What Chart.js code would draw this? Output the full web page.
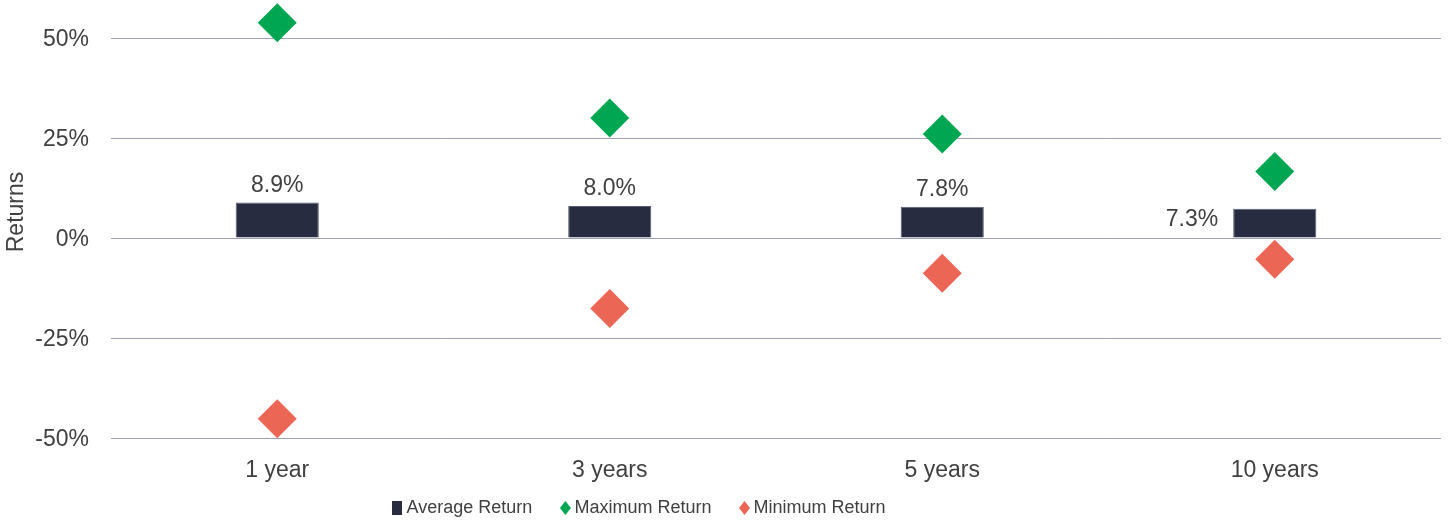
<!DOCTYPE html>
<html>
<head>
<meta charset="utf-8">
<script src="https://cdn.jsdelivr.net/npm/chart.js@4"></script>
<style>
  html, body { margin: 0; padding: 0; background: #ffffff; }
  #wrap { width: 1450px; height: 527px; position: relative; }
</style>
</head>
<body>
<div id="wrap"><canvas id="c" width="1450" height="527"></canvas></div>
<script>
const categories = ['1 year', '3 years', '5 years', '10 years'];
const averageReturn = [8.9, 8.0, 7.8, 7.3];
const maximumReturn = [53.8, 30.0, 26.0, 16.6];
const minimumReturn = [-45.2, -17.6, -8.8, -5.3];
const yTicks = [-50, -25, 0, 25, 50];
const seriesNames = ['Average Return', 'Maximum Return', 'Minimum Return'];
const yTitle = 'Returns';

const COL_AVG = '#282c40';
const COL_MAX = '#00a651';
const COL_MIN = '#ec6656';
const TXT = '#404040';
const FONT = '"Liberation Sans", Arial, sans-serif';

function marker(w, h, color, diamond) {
  const c = document.createElement('canvas');
  c.width = w; c.height = h;
  const x = c.getContext('2d');
  x.fillStyle = color;
  if (diamond) {
    x.beginPath();
    x.moveTo(w / 2, 0); x.lineTo(w, h / 2); x.lineTo(w / 2, h); x.lineTo(0, h / 2);
    x.closePath(); x.fill();
  } else {
    x.fillRect(0, 0, w, h);
  }
  return c;
}
const legendMarkers = [
  marker(10, 14, COL_AVG, false),
  marker(11, 14, COL_MAX, true),
  marker(11, 14, COL_MIN, true)
];

const barLabels = {
  id: 'barLabels',
  afterDatasetsDraw(chart) {
    const meta = chart.getDatasetMeta(0);
    const ctx = chart.ctx;
    ctx.save();
    ctx.font = '23px ' + FONT;
    ctx.fillStyle = TXT;
    ctx.textBaseline = 'middle';
    meta.data.forEach((bar, i) => {
      const txt = averageReturn[i].toFixed(1) + '%';
      if (i === meta.data.length - 1) {
        ctx.textAlign = 'right';
        ctx.fillText(txt, bar.x - bar.width / 2 - 15, (bar.y + bar.base) / 2 - 3);
      } else {
        ctx.textAlign = 'center';
        ctx.fillText(txt, bar.x, bar.y - 17);
      }
    });
    ctx.restore();
  }
};

const axisTitle = {
  id: 'axisTitle',
  afterDraw(chart) {
    const ctx = chart.ctx;
    ctx.save();
    ctx.font = '23px ' + FONT;
    ctx.fillStyle = TXT;
    ctx.textAlign = 'center';
    ctx.textBaseline = 'middle';
    ctx.translate(17, 212);
    ctx.rotate(-Math.PI / 2);
    ctx.fillText(yTitle, 0, 0);
    ctx.restore();
  }
};

const legendShift = {
  id: 'legendShift',
  afterLayout(chart) {
    const lg = chart.legend;
    lg.left -= 79;
    lg.right -= 79;
    lg.top -= 22;
    lg.bottom -= 22;
  }
};

new Chart(document.getElementById('c'), {
  data: {
    labels: categories,
    datasets: [
      {
        type: 'bar',
        label: seriesNames[0],
        data: averageReturn,
        backgroundColor: COL_AVG,
        borderColor: '#5a5d70',
        borderWidth: 1,
        barPercentage: 0.25,
        categoryPercentage: 1.0,
        order: 3
      },
      {
        type: 'line',
        label: seriesNames[1],
        data: maximumReturn,
        showLine: false,
        pointStyle: 'rectRot',
        pointRadius: 19.5,
        pointHoverRadius: 19.5,
        pointBackgroundColor: COL_MAX,
        pointBorderColor: COL_MAX,
        pointBorderWidth: 0,
        backgroundColor: COL_MAX,
        borderColor: COL_MAX,
        clip: false,
        order: 1
      },
      {
        type: 'line',
        label: seriesNames[2],
        data: minimumReturn,
        showLine: false,
        pointStyle: 'rectRot',
        pointRadius: 19.5,
        pointHoverRadius: 19.5,
        pointBackgroundColor: COL_MIN,
        pointBorderColor: COL_MIN,
        pointBorderWidth: 0,
        backgroundColor: COL_MIN,
        borderColor: COL_MIN,
        clip: false,
        order: 2
      }
    ]
  },
  options: {
    responsive: false,
    animation: false,
    devicePixelRatio: 1,
    layout: { autoPadding: false, padding: { top: 38, right: 9, bottom: -22, left: 0 } },
    plugins: {
      tooltip: { enabled: false },
      legend: {
        position: 'bottom',
        labels: {
          usePointStyle: true,
          pointStyleWidth: 0.1,
          color: TXT,
          font: { family: FONT, size: 18 },
          padding: 33,
          generateLabels(chart) {
            return chart.data.datasets.map((ds, i) => ({
              text: ds.label,
              fillStyle: ds.backgroundColor,
              strokeStyle: ds.backgroundColor,
              lineWidth: 0,
              pointStyle: legendMarkers[i],
              hidden: false,
              datasetIndex: i,
              fontColor: TXT
            }));
          }
        }
      }
    },
    scales: {
      x: {
        grid: { display: false, drawTicks: false },
        border: { display: false },
        ticks: { color: TXT, font: { family: FONT, size: 23 }, padding: 19 },
        afterFit(scale) { scale.height = 50; }
      },
      y: {
        min: -50,
        max: 50,
        afterBuildTicks(scale) { scale.ticks = yTicks.map(v => ({ value: v })); },
        grid: { color: '#a09eb2', lineWidth: 1, drawTicks: false },
        border: { display: false },
        ticks: {
          color: TXT,
          font: { family: FONT, size: 23 },
          padding: 22,
          labelOffset: 2,
          callback: v => v + '%'
        },
        title: { display: false },
        afterFit(scale) { scale.width = 111; }
      }
    }
  },
  plugins: [barLabels, axisTitle, legendShift]
});
</script>
</body>
</html>
